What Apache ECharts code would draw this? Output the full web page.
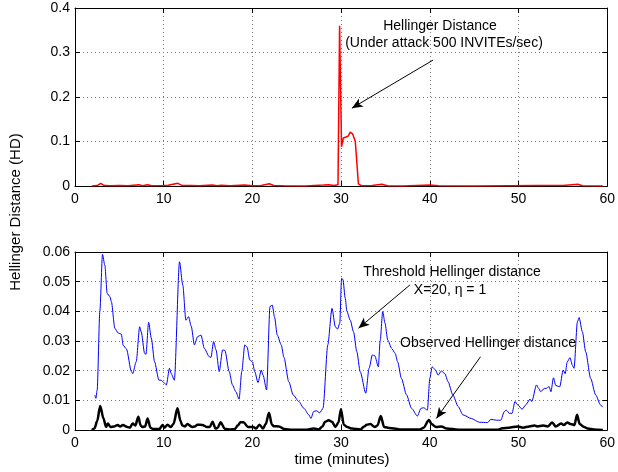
<!DOCTYPE html>
<html>
<head>
<meta charset="utf-8">
<script src="https://cdn.jsdelivr.net/npm/echarts@6/dist/echarts.min.js"></script>
<style>
html,body{margin:0;padding:0;background:#fff;}
#chart{width:618px;height:472px;}
</style>
</head>
<body>
<div id="chart"></div>
<script>
// ---------- data ----------
const xTicks = [0, 10, 20, 30, 40, 50, 60];
const topYTicks = [0, 0.1, 0.2, 0.3, 0.4];
const bottomYTicks = [0, 0.01, 0.02, 0.03, 0.04, 0.05, 0.06];

// Top panel: Hellinger distance under attack (red)
const attackTime = [1.9,2.5,2.9,3.3,4,5,6,7.2,7.6,8.2,8.6,10,10.5,11.6,12.1,13,14,15.5,16,16.5,17.5,19.1,20,21,21.9,22.4,23.5,26,28,28.6,29.2,29.65,29.83,30.05,30.25,30.55,30.8,31.03,31.3,31.6,31.95,32.3,33.5,34.6,35.2,37,40,41,45,49,52,55,56.7,57.2,59.5];
const attackHD = [0,0.001,0.006,0.001,0.0005,0.001,0.0005,0.003,0.0005,0.003,0.0005,0.001,0.0015,0.006,0.001,0.001,0.0008,0.002,0.0005,0.0015,0.0003,0.002,0.0005,0.001,0.005,0.001,0.0003,0.0002,0.002,0.003,0.001,0.003,0.36,0.088,0.108,0.11,0.112,0.121,0.117,0.1,0.005,0.0005,0.001,0.004,0.0005,0.0002,0.002,0.0005,0.0002,0.0008,0.001,0.001,0.004,0.0005,0];

// Bottom panel: threshold Hellinger distance (blue)
const thresholdTime = [2.24,2.36,2.5,2.8,3.1,3.36,3.63,3.93,4.1,4.49,4.86,5.23,5.42,5.8,6.36,6.5,6.9,7.29,7.47,7.85,8.0,8.3,8.6,8.97,9.46,9.7,10.0,10.3,10.65,10.85,11.2,11.78,12.15,12.5,12.8,13.1,13.46,13.83,14.2,14.58,15.14,15.33,15.62,15.9,16.26,16.64,16.9,17.38,17.75,18.13,18.5,18.8,19.14,19.4,19.7,20.0,20.26,20.63,21.0,21.2,21.6,21.98,22.24,22.5,22.8,23.25,23.55,24.1,24.6,25.23,25.8,26.36,26.6,26.9,27.2,27.6,27.96,28.5,28.97,29.35,29.6,29.85,30.05,30.2,30.47,30.65,31.03,31.4,31.77,32.15,32.78,33.15,33.53,33.8,34.2,34.4,34.69,34.95,35.26,35.7,36.1,36.37,36.8,37.38,37.94,38.6,39.0,39.3,39.73,40.0,40.26,40.65,40.93,41.3,41.7,42.05,42.6,43.2,43.74,44.67,45.6,46.5,46.9,47.5,48.0,48.4,48.6,49.0,49.27,49.6,49.9,50.4,50.83,51.3,51.5,52.03,52.25,52.5,52.9,53.1,53.46,53.65,53.94,54.2,54.65,55.03,55.26,55.5,55.8,56.08,56.26,56.64,56.83,57.2,57.57,58.13,58.7,59.25,59.5];
const thresholdHD = [0.0118,0.0107,0.0135,0.040,0.0592,0.0556,0.046,0.045,0.0433,0.0343,0.0327,0.0323,0.0286,0.0273,0.0197,0.019,0.023,0.0348,0.033,0.0258,0.0255,0.0363,0.031,0.023,0.0168,0.0168,0.016,0.0152,0.0208,0.019,0.0168,0.0567,0.0489,0.037,0.0382,0.035,0.0287,0.0315,0.032,0.0275,0.0247,0.0245,0.0298,0.027,0.0197,0.027,0.0268,0.0197,0.0152,0.0129,0.0104,0.0197,0.0287,0.028,0.0236,0.023,0.0197,0.016,0.0202,0.0185,0.0135,0.0416,0.0421,0.038,0.032,0.0287,0.0245,0.0163,0.0118,0.0096,0.0073,0.0051,0.0039,0.0062,0.0065,0.0058,0.0073,0.0287,0.041,0.0348,0.034,0.036,0.0511,0.0508,0.0444,0.040,0.037,0.0331,0.0264,0.0197,0.0124,0.0208,0.0253,0.025,0.0213,0.030,0.0399,0.036,0.0303,0.0275,0.0258,0.023,0.0174,0.0118,0.0073,0.0047,0.0073,0.0075,0.0067,0.0174,0.0213,0.0202,0.0185,0.0199,0.019,0.0163,0.0118,0.0079,0.0051,0.0039,0.0026,0.0025,0.0036,0.0033,0.0033,0.0062,0.0067,0.0056,0.0056,0.0096,0.0085,0.007,0.0085,0.0104,0.0096,0.0152,0.0141,0.0129,0.014,0.014,0.0146,0.0129,0.0176,0.015,0.0146,0.0202,0.019,0.023,0.0244,0.0218,0.0208,0.0365,0.0379,0.0331,0.0264,0.0174,0.0118,0.0084,0.0077];

// Bottom panel: observed Hellinger distance (black)
const observedTime = [1.9,2.2,2.5,2.84,3.2,3.5,3.7,4.0,4.4,4.8,5.1,5.4,5.9,6.2,6.5,6.8,7.14,7.4,7.6,7.9,8.19,8.5,8.8,9.5,9.87,10.1,10.43,10.8,11.1,11.55,11.9,12.1,12.4,12.67,13.2,13.5,13.8,14.35,14.9,15.2,15.5,15.85,16.1,16.4,16.9,17.5,18.0,18.35,18.65,19.0,19.5,20.1,20.4,20.8,21.2,21.5,21.87,22.2,22.4,23.0,23.6,24.5,26.0,26.9,27.5,27.9,28.2,28.6,28.97,29.35,29.7,29.98,30.3,30.7,31.2,32.2,32.6,32.9,33.3,33.8,34.1,34.47,34.85,35.4,36.0,36.6,38.9,39.3,39.9,40.2,40.7,41.3,41.9,43.2,47.7,48.2,48.9,49.9,50.5,51.2,51.8,52.1,52.8,53.3,53.8,54.2,54.8,55.1,55.5,55.9,56.3,56.6,56.9,57.4,57.8,58.5,59.5];
const observedHD = [0,0.0005,0.003,0.0081,0.004,0.001,0.0022,0.001,0.0012,0.0017,0.0012,0.0017,0.001,0.0008,0.0022,0.0015,0.0045,0.0015,0.001,0.0012,0.0039,0.0008,0.0003,0.0003,0.0017,0.0008,0.0018,0.001,0.002,0.0073,0.003,0.0015,0.0012,0.002,0.001,0.0012,0.0018,0.0017,0.001,0.001,0.0028,0.0005,0.0008,0.0026,0.0004,0.0002,0.0003,0.0015,0.0026,0.0026,0.001,0.001,0.0005,0.0018,0.0005,0.002,0.0058,0.0018,0.0013,0.0012,0.0003,0.0001,0.0001,0.0005,0.0002,0.0012,0.0028,0.0033,0.0028,0.001,0.0025,0.007,0.0018,0.001,0.0005,0.0002,0.0012,0.0018,0.002,0.001,0.0015,0.0047,0.001,0.0007,0.0005,0.0002,0.0002,0.0008,0.0034,0.002,0.001,0.0012,0.0005,0.0001,0.0001,0.0006,0.0008,0.0012,0.0008,0.0012,0.0015,0.0012,0.0015,0.0012,0.0025,0.0012,0.0022,0.0017,0.0025,0.002,0.0017,0.0051,0.002,0.001,0.0005,0.0002,0];

// Annotation arrows (data coordinates: [start, end])
const attackArrow = [[40.37, 0.283], [31.21, 0.175]];
const thresholdArrow = [[37.76, 0.0489], [31.96, 0.0343]];
const observedArrow = [[45.72, 0.0247], [40.74, 0.0039]];

// ---------- chart ----------
const FONT = 'Liberation Sans, Arial, Helvetica, sans-serif';
const pair = (xs, ys) => xs.map((x, i) => [x, ys[i]]);
const fmt = v => String(Math.round(v * 1000) / 1000);

function xAxisFor(grid, pos, main) {
  return {
    type: 'value', gridIndex: grid, position: pos,
    min: xTicks[0], max: xTicks[xTicks.length - 1], interval: xTicks[1] - xTicks[0],
    axisLine: {show: true, onZero: false, lineStyle: {color: '#000', width: 1}},
    axisTick: {show: true, inside: true, length: 5, lineStyle: {color: '#000'}},
    axisLabel: {show: main, color: '#000', fontSize: 14, fontFamily: FONT, margin: 6},
    splitLine: {show: main, lineStyle: {color: '#777', type: [1, 3], width: 1}}
  };
}
function yAxisFor(grid, pos, main, ticks) {
  return {
    type: 'value', gridIndex: grid, position: pos,
    min: ticks[0], max: ticks[ticks.length - 1], interval: ticks[1] - ticks[0],
    axisLine: {show: true, onZero: false, lineStyle: {color: '#000', width: 1}},
    axisTick: {show: true, inside: true, length: 5, lineStyle: {color: '#000'}},
    axisLabel: {show: main, color: '#000', fontSize: 14, fontFamily: FONT, margin: 5, formatter: fmt},
    splitLine: {show: main, lineStyle: {color: '#777', type: [1, 3], width: 1}}
  };
}
function arrow(a) {
  return {
    silent: true, animation: false, symbol: ['none', 'arrow'], symbolSize: [7, 11],
    label: {show: false},
    lineStyle: {color: '#000', width: 1, type: 'solid'},
    data: [[{coord: a[0]}, {coord: a[1]}]]
  };
}

const chart = echarts.init(document.getElementById('chart'), null, {renderer: 'canvas'});
chart.setOption({
  animation: false,
  backgroundColor: '#fff',
  grid: [
    {left: 75, width: 535, top: 8, height: 178},
    {left: 75, width: 535, top: 252, height: 178}
  ],
  xAxis: [
    xAxisFor(0, 'bottom', true), xAxisFor(0, 'top', false),
    xAxisFor(1, 'bottom', true), xAxisFor(1, 'top', false)
  ],
  yAxis: [
    yAxisFor(0, 'left', true, topYTicks), yAxisFor(0, 'right', false, topYTicks),
    yAxisFor(1, 'left', true, bottomYTicks), yAxisFor(1, 'right', false, bottomYTicks)
  ],
  series: [
    {
      type: 'line', xAxisIndex: 0, yAxisIndex: 0, data: pair(attackTime, attackHD),
      showSymbol: false, lineStyle: {color: '#ff0000', width: 1.5}, itemStyle: {color: '#ff0000'},
      markLine: arrow(attackArrow)
    },
    {
      type: 'line', xAxisIndex: 2, yAxisIndex: 2, data: pair(thresholdTime, thresholdHD),
      showSymbol: false, smooth: 0.25, smoothMonotone: 'x',
      lineStyle: {color: '#0000ff', width: 1}, itemStyle: {color: '#0000ff'},
      markLine: arrow(thresholdArrow)
    },
    {
      type: 'line', xAxisIndex: 2, yAxisIndex: 2, data: pair(observedTime, observedHD),
      showSymbol: false, smooth: 0.3, smoothMonotone: 'x',
      lineStyle: {color: '#000', width: 2.5}, itemStyle: {color: '#000'},
      markLine: arrow(observedArrow)
    }
  ],
  graphic: [
    {type: 'text', x: 16, y: 212, rotation: Math.PI / 2,
     style: {text: 'Hellinger Distance (HD)', fill: '#000', font: '15px ' + FONT, textAlign: 'center', textVerticalAlign: 'middle'}},
    {type: 'text', x: 342, y: 460,
     style: {text: 'time (minutes)', fill: '#000', font: '15px ' + FONT, textAlign: 'center', textVerticalAlign: 'middle'}},
    {type: 'text', x: 440, y: 26,
     style: {text: 'Hellinger Distance', fill: '#000', font: '14px ' + FONT, textAlign: 'center', textVerticalAlign: 'middle'}},
    {type: 'text', x: 444, y: 43,
     style: {text: '(Under attack 500 INVITEs/sec)', fill: '#000', font: '14px ' + FONT, textAlign: 'center', textVerticalAlign: 'middle'}},
    {type: 'text', x: 452, y: 272,
     style: {text: 'Threshold Hellinger distance', fill: '#000', font: '14px ' + FONT, textAlign: 'center', textVerticalAlign: 'middle'}},
    {type: 'text', x: 450, y: 290,
     style: {text: 'X=20, η = 1', fill: '#000', font: '14px ' + FONT, textAlign: 'center', textVerticalAlign: 'middle'}},
    {type: 'text', x: 488, y: 343,
     style: {text: 'Observed Hellinger distance', fill: '#000', font: '14px ' + FONT, textAlign: 'center', textVerticalAlign: 'middle'}}
  ]
});
</script>
</body>
</html>
